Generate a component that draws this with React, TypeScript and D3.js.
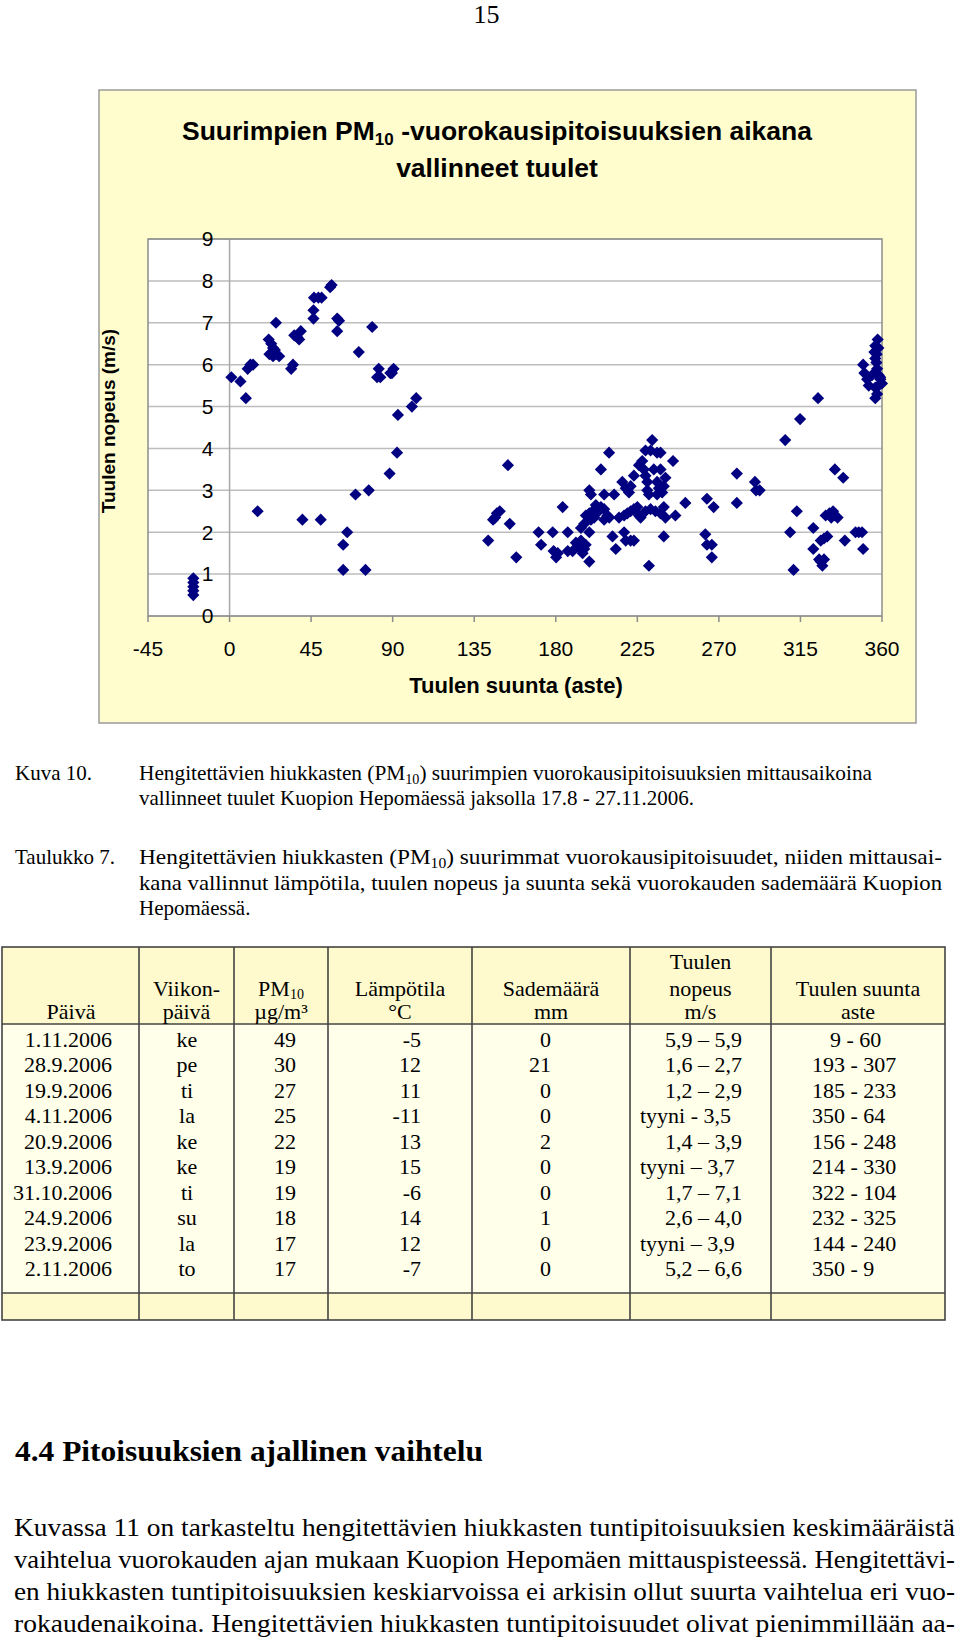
import React from 'react';
import * as d3 from 'd3';

// ---------- chart data (wind direction in degrees, wind speed in m/s) ----------
const directions: number[] = [
  -20, -20, -20, -20, -20,
  1, 6, 9, 10, 11.5, 13, 15.5, 21.6, 23, 24, 25, 22, 24, 25.6, 27.4, 25.6,
  34, 35, 35.7, 37.5, 38.4, 39.3, 40.2, 46.3, 46.3, 46.6, 49, 50.8, 50.3,
  56.3, 55.5, 59.4, 60.4, 59.4, 62.7, 64.9, 62.7, 69.5, 71.3, 75, 76.8, 78.7,
  82.3, 83.2, 81.4, 88.7, 90.5, 89.6, 88.3, 92.4, 92.9, 100.6, 103,
  142.7, 145.4, 146.5, 147.5, 149.1, 153.6, 154.6, 158.2, 170.5, 171.9,
  178.3, 178.8, 180.2, 181.1, 183.8, 186.6, 186.6, 189.3, 191.1, 193, 193.9,
  194.8, 195.7, 196.5, 193.9, 195.7, 198.5, 198.5, 196.6, 198.5, 200.3, 199.4,
  201.2, 202.5, 198.5, 199.4, 202.1, 204.9, 206.7, 208.5, 206.7, 209.5, 204.9,
  209.4, 206.7, 212.2, 211.3, 213.1, 214.9, 217.7, 219.5, 216.7, 218.6, 220.4,
  221.3, 223.1, 217.7, 218.6, 221.3, 223.1, 221.3, 223.1, 225, 225.9, 226.8,
  225.9, 227.7, 228.6, 229.5, 230.5, 230.5, 231.4, 229.5, 233.2, 232.3, 235.9,
  237.8, 234.1, 235.9, 236.9, 238.7, 235.9, 237.8, 240.5, 239.6, 231.4, 229.5,
  232.3, 235, 237.8, 239.6, 240.5, 239.6, 244.7, 246, 251.5, 263.4, 267.1,
  262.5, 263.4, 266.1, 266.1, 279.9, 279.9, 289.9, 290.5, 292.5,
  306.6, 314.8, 324.7, 309.3, 311.2, 313, 322.1, 322.1, 326.2, 328, 329.8,
  325.3, 326.2, 327.1, 328, 328.9, 331, 333, 334, 335.5, 332, 334, 338.6,
  339.5, 345.4, 347.2, 349, 349.6, 349.6, 350.3, 351.8, 352.7, 354.5,
  357.6, 356.3, 355.8, 356.3, 356.9, 357.3, 358.2, 359.1, 360, 358.2, 356.3,
  357.3, 356.3, 359, 358, 357,
];

const speeds: number[] = [
  0.9, 0.8, 0.7, 0.6, 0.5,
  5.7, 5.6, 5.2, 5.9, 6.0, 6.0, 2.5, 6.6, 6.5, 6.4, 6.35, 6.25, 6.2, 6.25, 6.2, 7.0,
  5.9, 6.0, 6.7, 6.65, 6.6, 6.8, 2.3, 7.3, 7.1, 7.6, 7.6, 7.6, 2.3,
  7.9, 7.85, 7.1, 7.05, 6.8, 1.7, 2.0, 1.1, 2.9, 6.3, 1.1, 3.0, 6.9,
  5.9, 5.7, 5.7, 5.8, 5.9, 5.8, 3.4, 3.9, 4.8, 5.0, 5.2,
  1.8, 2.3, 2.35, 2.45, 2.5, 3.6, 2.2, 1.4, 2.0, 1.7,
  2.0, 1.55, 1.4, 1.5, 2.6, 2.0, 1.55, 1.55, 1.75, 1.65, 1.8,
  1.5, 1.6, 1.7, 2.1, 2.2, 1.3, 2.0, 2.4, 2.45, 2.5, 2.3,
  2.35, 2.45, 3.0, 2.9, 2.65, 2.6, 2.55, 2.4, 2.3, 2.35, 3.5,
  3.9, 2.9, 2.9, 1.9, 1.6, 2.35, 2.4, 2.45, 3.2, 3.05, 2.95,
  3.1, 3.35, 2.0, 1.8, 1.8, 1.8, 2.5, 2.55, 2.6, 2.4, 2.35,
  3.6, 3.7, 3.5, 3.35, 3.2, 3.0, 2.9, 3.95, 4.2, 3.95, 3.9,
  3.9, 3.5, 3.2, 3.05, 2.95, 2.9, 3.5, 3.3, 3.1, 1.2, 2.5,
  2.55, 2.5, 2.45, 2.6, 2.35, 1.9, 3.7, 2.4, 2.7, 2.8, 2.6,
  1.95, 1.7, 1.7, 1.4, 3.4, 2.7, 3.2, 3.0, 3.0,
  4.2, 4.7, 5.2, 2.0, 1.1, 2.5, 2.1, 1.6, 1.8, 1.85, 1.9,
  1.35, 1.3, 1.2, 1.35, 2.4, 2.45, 2.5, 2.4, 2.35, 2.35, 3.5, 3.3,
  1.8, 2.0, 2.0, 2.0, 1.6, 6.0, 5.8, 5.65, 5.5, 5.75,
  6.6, 6.45, 6.3, 6.15, 6.05, 5.9, 5.75, 5.65, 5.55, 5.5, 5.45,
  5.3, 5.2, 5.7, 6.4, 6.25,
];

const xTicks: number[] = [-45, 0, 45, 90, 135, 180, 225, 270, 315, 360];
const yTicks: number[] = [0, 1, 2, 3, 4, 5, 6, 7, 8, 9];

// ---------- table data ----------
const dates = ['1.11.2006', '28.9.2006', '19.9.2006', '4.11.2006', '20.9.2006', '13.9.2006', '31.10.2006', '24.9.2006', '23.9.2006', '2.11.2006'];
const weekdays = ['ke', 'pe', 'ti', 'la', 'ke', 'ke', 'ti', 'su', 'la', 'to'];
const pm10 = [49, 30, 27, 25, 22, 19, 19, 18, 17, 17];
const temps = [-5, 12, 11, -11, 13, 15, -6, 14, 12, -7];
const rain = [0, 21, 0, 0, 2, 0, 0, 1, 0, 0];
const windSpeedRange = ['5,9 – 5,9', '1,6 – 2,7', '1,2 – 2,9', 'tyyni - 3,5', '1,4 – 3,9', 'tyyni – 3,7', '1,7 – 7,1', '2,6 – 4,0', 'tyyni – 3,9', '5,2 – 6,6'];
const windDirRange = ['9 - 60', '193 - 307', '185 - 233', '350 - 64', '156 - 248', '214 - 330', '322 - 104', '232 - 325', '144 - 240', '350 - 9'];

const paragraphLines = [
  'Kuvassa 11 on tarkasteltu hengitettävien hiukkasten tuntipitoisuuksien keskimääräistä',
  'vaihtelua vuorokauden ajan mukaan Kuopion Hepomäen mittauspisteessä. Hengitettävi-',
  'en hiukkasten tuntipitoisuuksien keskiarvoissa ei arkisin ollut suurta vaihtelua eri vuo-',
  'rokaudenaikoina. Hengitettävien hiukkasten tuntipitoisuudet olivat pienimmillään aa-',
];

const SANS = "'Liberation Sans', Arial, sans-serif";
const SERIF = "'Liberation Serif', 'Times New Roman', serif";

export default function App() {
  // chart geometry
  const plot = { left: 148, right: 882, top: 239, bottom: 616 };
  const x = d3.scaleLinear().domain([-45, 360]).range([plot.left, plot.right]);
  const y = d3.scaleLinear().domain([0, 9]).range([plot.bottom, plot.top]);
  const diamond = d3.symbol().type(d3.symbolSquare).size(74)() as string;
  const points = directions.map((d, i) => [d, speeds[i]] as [number, number]);

  // table geometry
  const tLeft = 2, tRight = 945, tTop = 947, tHeadBottom = 1024, tLastTop = 1293, tBottom = 1320;
  const colSep = [139, 234, 328, 472, 630, 771];
  const rowY = d3.scaleLinear().domain([0, 9]).range([1039, 1268.5]);
  const tFont = 22;

  return (
    <svg
      width={960}
      height={1637}
      viewBox="0 0 960 1637"
      style={{ position: 'absolute', left: 0, top: 0, background: '#ffffff' }}
    >
      <rect x={0} y={0} width={960} height={1637} fill="#ffffff" />
      {/* page number */}
      <text x={486.5} y={22.5} textAnchor="middle" fontFamily={SERIF} fontSize={26} fill="#000">15</text>

      {/* chart frame */}
      <rect x={99} y={90} width={817} height={633} fill="#FFFDCD" stroke="#9a9a9a" strokeWidth={1.5} />
      <text x={497} y={140} textAnchor="middle" fontFamily={SANS} fontWeight="bold" fontSize={26.5} fill="#000">
        <tspan>Suurimpien PM</tspan>
        <tspan fontSize={17} dy={5}>10</tspan>
        <tspan dy={-5}> -vuorokausipitoisuuksien aikana</tspan>
      </text>
      <text x={497} y={177} textAnchor="middle" fontFamily={SANS} fontWeight="bold" fontSize={26.5} fill="#000">vallinneet tuulet</text>

      {/* plot area */}
      <rect x={plot.left} y={plot.top} width={plot.right - plot.left} height={plot.bottom - plot.top} fill="#ffffff" />
      {yTicks.map((t) => (
        <line key={'g' + t} x1={plot.left} x2={plot.right} y1={y(t)} y2={y(t)} stroke="#bdbdbd" strokeWidth={1.5} />
      ))}
      <line x1={x(0)} x2={x(0)} y1={plot.top} y2={plot.bottom} stroke="#a8a8a8" strokeWidth={1.5} />
      <rect x={plot.left} y={plot.top} width={plot.right - plot.left} height={plot.bottom - plot.top} fill="none" stroke="#8c8c8c" strokeWidth={1.5} />
      {xTicks.map((t) => (
        <g key={'xt' + t}>
          <line x1={x(t)} x2={x(t)} y1={plot.bottom} y2={plot.bottom + 6} stroke="#8c8c8c" strokeWidth={1.5} />
          <text x={x(t)} y={655.5} textAnchor="middle" fontFamily={SANS} fontSize={21} fill="#000">{t}</text>
        </g>
      ))}
      {yTicks.map((t) => (
        <text key={'yt' + t} x={x(0) - 16} y={y(t)} dy="0.35em" textAnchor="end" fontFamily={SANS} fontSize={21} fill="#000">{t}</text>
      ))}
      <text transform="translate(115,421) rotate(-90)" textAnchor="middle" fontFamily={SANS} fontWeight="bold" fontSize={19} fill="#000">Tuulen nopeus (m/s)</text>
      <text x={516} y={693} textAnchor="middle" fontFamily={SANS} fontWeight="bold" fontSize={22} fill="#000">Tuulen suunta (aste)</text>

      {points.map(([d, s], i) => (
        <path key={'p' + i} d={diamond} transform={`translate(${x(d)},${y(s)}) rotate(45)`} fill="#000080" />
      ))}

      {/* caption */}
      <g fontFamily={SERIF} fontSize={21} fill="#000">
        <text x={15} y={780}>Kuva 10.</text>
        <text x={139} y={780} textLength={733} lengthAdjust="spacingAndGlyphs">
          <tspan>Hengitettävien hiukkasten (PM</tspan>
          <tspan fontSize={14} dy={4}>10</tspan>
          <tspan dy={-4}>) suurimpien vuorokausipitoisuuksien mittausaikoina</tspan>
        </text>
        <text x={139} y={805}>vallinneet tuulet Kuopion Hepomäessä jaksolla 17.8 - 27.11.2006.</text>

        <text x={15} y={864}>Taulukko 7.</text>
        <text x={139} y={864} textLength={803} lengthAdjust="spacingAndGlyphs">
          <tspan>Hengitettävien hiukkasten (PM</tspan>
          <tspan fontSize={14} dy={4}>10</tspan>
          <tspan dy={-4}>) suurimmat vuorokausipitoisuudet, niiden mittausai-</tspan>
        </text>
        <text x={139} y={890} textLength={803} lengthAdjust="spacingAndGlyphs">kana vallinnut lämpötila, tuulen nopeus ja suunta sekä vuorokauden sademäärä Kuopion</text>
        <text x={139} y={915}>Hepomäessä.</text>
      </g>

      {/* table */}
      <rect x={tLeft} y={tTop} width={tRight - tLeft} height={tHeadBottom - tTop} fill="#FFFACD" />
      <rect x={tLeft} y={tHeadBottom} width={tRight - tLeft} height={tLastTop - tHeadBottom} fill="#FFFFEA" />
      <rect x={tLeft} y={tLastTop} width={tRight - tLeft} height={tBottom - tLastTop} fill="#FFFACD" />
      <g stroke="#444" strokeWidth={1.6}>
        <rect x={tLeft} y={tTop} width={tRight - tLeft} height={tBottom - tTop} fill="none" />
        <line x1={tLeft} x2={tRight} y1={tHeadBottom} y2={tHeadBottom} />
        <line x1={tLeft} x2={tRight} y1={tLastTop} y2={tLastTop} />
        {colSep.map((c) => (
          <line key={'c' + c} x1={c} x2={c} y1={tTop} y2={tBottom} />
        ))}
      </g>
      <g fontFamily={SERIF} fontSize={tFont} fill="#000" textAnchor="middle">
        <text x={71} y={1019}>Päivä</text>
        <text x={186.5} y={996}>Viikon-</text>
        <text x={186.5} y={1019}>päivä</text>
        <text x={281} y={996}>
          <tspan>PM</tspan>
          <tspan fontSize={14} dy={3}>10</tspan>
        </text>
        <text x={281} y={1019}>µg/m³</text>
        <text x={400} y={996}>Lämpötila</text>
        <text x={400} y={1019}>°C</text>
        <text x={551} y={996}>Sademäärä</text>
        <text x={551} y={1019}>mm</text>
        <text x={700.5} y={969}>Tuulen</text>
        <text x={700.5} y={996}>nopeus</text>
        <text x={700.5} y={1019}>m/s</text>
        <text x={858} y={996}>Tuulen suunta</text>
        <text x={858} y={1019}>aste</text>
      </g>
      <g fontFamily={SERIF} fontSize={tFont} fill="#000">
        {dates.map((d, i) => {
          const by = rowY(i) + 7.5;
          const ws = windSpeedRange[i];
          const calm = ws.startsWith('tyyni');
          return (
            <g key={'r' + i}>
              <text x={112} y={by} textAnchor="end">{d}</text>
              <text x={187} y={by} textAnchor="middle">{weekdays[i]}</text>
              <text x={285} y={by} textAnchor="middle">{pm10[i]}</text>
              <text x={421} y={by} textAnchor="end">{temps[i]}</text>
              <text x={551} y={by} textAnchor="end">{rain[i]}</text>
              {calm ? (
                <text x={640} y={by} textAnchor="start">{ws}</text>
              ) : (
                <text x={742} y={by} textAnchor="end">{ws}</text>
              )}
              <text x={i === 0 ? 830 : 812} y={by} textAnchor="start">{windDirRange[i]}</text>
            </g>
          );
        })}
      </g>

      {/* section heading and paragraph */}
      <text x={15} y={1461} fontFamily={SERIF} fontWeight="bold" fontSize={30} fill="#000" textLength={468} lengthAdjust="spacingAndGlyphs">4.4  Pitoisuuksien ajallinen vaihtelu</text>
      <g fontFamily={SERIF} fontSize={25} fill="#000">
        {paragraphLines.map((l, i) => (
          <text key={'pl' + i} x={14} y={1536 + i * 32} textLength={941} lengthAdjust="spacingAndGlyphs">{l}</text>
        ))}
      </g>
    </svg>
  );
}
